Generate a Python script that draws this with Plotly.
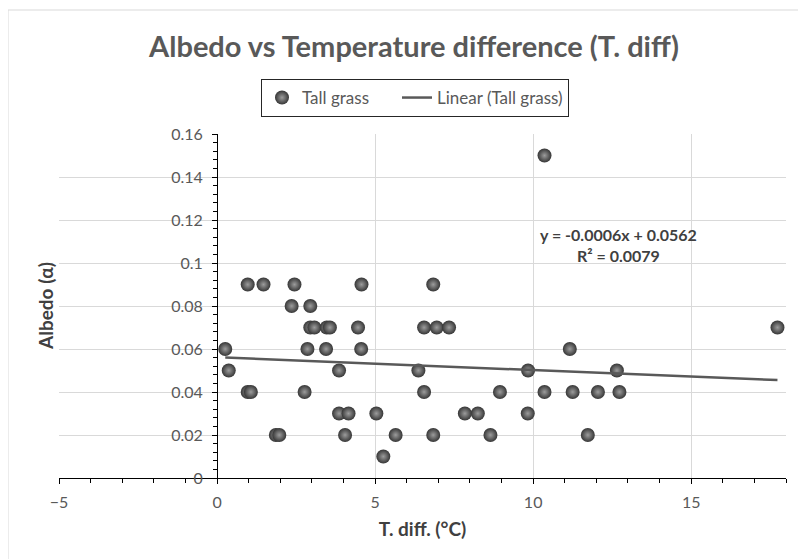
import plotly.graph_objects as go

t_diff = [10.36,
          0.97, 1.47, 2.45, 4.57, 6.84,
          2.36, 2.95,
          2.95, 3.08, 3.47, 3.57, 4.46, 6.55, 6.95, 7.34, 17.73,
          0.26, 2.86, 3.45, 4.56, 11.16,
          0.37, 3.86, 6.37, 9.84, 12.65,
          0.97, 1.07, 2.77, 6.55, 8.95, 10.36, 11.25, 12.05, 12.73,
          3.86, 4.16, 5.04, 7.84, 8.25, 9.83,
          1.86, 1.97, 4.05, 5.65, 6.84, 8.65, 11.73,
          5.26]
albedo = [0.15,
          0.09, 0.09, 0.09, 0.09, 0.09,
          0.08, 0.08,
          0.07, 0.07, 0.07, 0.07, 0.07, 0.07, 0.07, 0.07, 0.07,
          0.06, 0.06, 0.06, 0.06, 0.06,
          0.05, 0.05, 0.05, 0.05, 0.05,
          0.04, 0.04, 0.04, 0.04, 0.04, 0.04, 0.04, 0.04, 0.04,
          0.03, 0.03, 0.03, 0.03, 0.03, 0.03,
          0.02, 0.02, 0.02, 0.02, 0.02, 0.02, 0.02,
          0.01]

# linear trendline as printed on the chart
TREND_SLOPE = -0.0006
TREND_INTERCEPT = 0.0562
TREND_R2 = 0.0079

X_RANGE = [-5, 18]
Y_RANGE = [0, 0.16]

FONT = "Lato, 'Open Sans', sans-serif"
GREY_TEXT = "#595959"
DARK_TEXT = "#404040"
GRID = "#d9d9d9"

# trendline spans the measured x range
trend_x = [min(t_diff), max(t_diff)]
trend_y = [TREND_SLOPE * x + TREND_INTERCEPT for x in trend_x]

# the page body has an 8px margin, so work in page pixels and shift
OFF = 8
FIG_W, FIG_H = 806 - OFF, 559 - OFF
# plot area in page pixels
L, R, T, B = 59, 786, 134, 478
W, H = R - L, B - T


def px_x(p):
    return (p - L) / W


def px_y(p):
    return (B - p) / H


fig = go.Figure()

fig.add_trace(go.Scatter(
    x=t_diff, y=albedo, mode="markers", name="Tall grass",
    legendwidth=90,
    marker=dict(size=14, color="#363636",
                gradient=dict(type="radial", color="#9c9c9c"),
                line=dict(width=0))))

fig.add_trace(go.Scatter(
    x=trend_x, y=trend_y, mode="lines", name="Linear (Tall grass)",
    line=dict(color="#595959", width=2.5)))

fig.update_layout(
    width=FIG_W, height=FIG_H,
    margin=dict(l=L - OFF, r=806 - R, t=T - OFF, b=559 - B, pad=0),
    paper_bgcolor="white", plot_bgcolor="white",
    font=dict(family=FONT, size=16, color=GREY_TEXT),
    title=dict(text="<b>Albedo vs Temperature difference (T. diff)</b>",
               x=(414 - OFF) / FIG_W, xref="container", xanchor="center",
               y=1 - (47 - OFF) / FIG_H, yref="container", yanchor="middle",
               font=dict(size=29, color=GREY_TEXT, family=FONT)),
    showlegend=True,
    legend=dict(orientation="h", x=px_x(261), xanchor="left",
                y=px_y(79), yanchor="top",
                bordercolor="#262626", borderwidth=1,
                font=dict(size=17, color=GREY_TEXT, family=FONT)),
    xaxis=dict(range=X_RANGE, dtick=5, tick0=0, domain=[0, 1],
               showgrid=True, gridcolor=GRID, gridwidth=1, zeroline=False,
               showline=True, linecolor="black", linewidth=1,
               ticks="outside", ticklen=5, tickcolor="black",
               ticklabelstandoff=5,
               minor=dict(dtick=1, ticks="outside", ticklen=4,
                          tickcolor="black", showgrid=False),
               tickfont=dict(size=16, color=GREY_TEXT),
               title=dict(text="<b>T. diff. (°C)</b>", standoff=12,
                          font=dict(size=19, color=DARK_TEXT))),
    yaxis=dict(range=Y_RANGE, dtick=0.02, tick0=0,
               anchor="free", position=(0 - X_RANGE[0]) / (X_RANGE[1] - X_RANGE[0]),
               showgrid=True, gridcolor=GRID, gridwidth=1, zeroline=False,
               showline=True, linecolor="black", linewidth=1,
               ticks="outside", ticklen=5, tickcolor="black",
               ticklabelstandoff=6,
               minor=dict(dtick=0.004, ticks="outside", ticklen=4,
                          tickcolor="black", showgrid=False),
               tickfont=dict(size=16, color=GREY_TEXT)),
    annotations=[
        dict(text="<b>Albedo (α)</b>", textangle=-90,
             xref="paper", yref="paper", x=px_x(45), y=px_y(306),
             xanchor="center", yanchor="middle",
             showarrow=False, font=dict(size=19, color=DARK_TEXT)),
        dict(text="<b>y = -0.0006x + 0.0562<br>R² = %.4f</b>" % TREND_R2,
             xref="paper", yref="paper", x=px_x(618), y=px_y(245),
             xanchor="center", yanchor="middle",
             showarrow=False, align="center",
             font=dict(size=16, color=DARK_TEXT)),
    ],
    shapes=[dict(type="rect", xref="paper", yref="paper",
                 x0=px_x(8), x1=px_x(860), y0=px_y(600), y1=px_y(10),
                 line=dict(color=GRID, width=1), layer="below")],
)

fig.write_html("out.html")
